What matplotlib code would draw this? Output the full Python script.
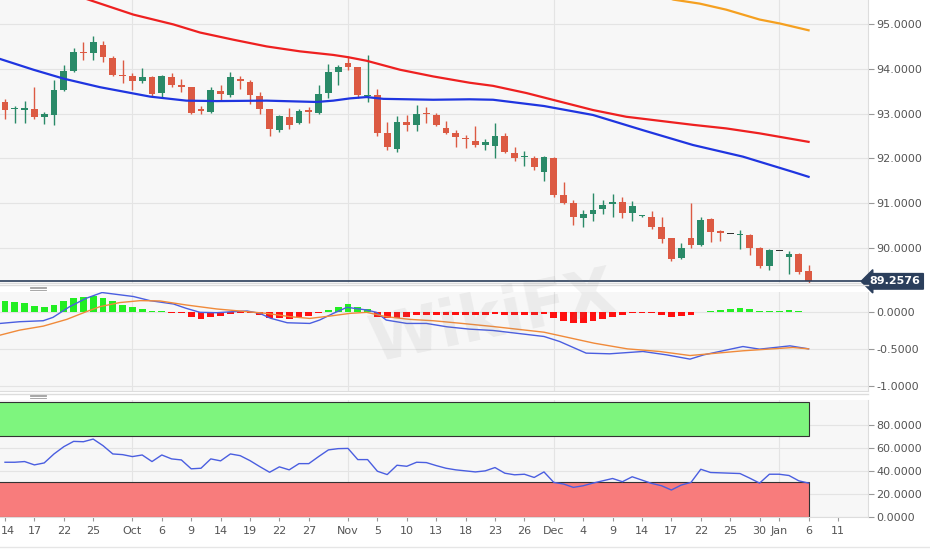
import matplotlib.pyplot as plt
import numpy as np
from matplotlib.patches import Rectangle

# daily candles, trading-day index 0 = Sep 14
opens = [93.27, 93.10, 93.09, 93.10, 92.93, 92.96, 93.53, 93.96, 94.38, 94.35,
         94.54, 94.25, 93.85, 93.85, 93.72, 93.81, 93.47, 93.81, 93.64, 93.59,
         93.11, 93.04, 93.51, 93.41, 93.78, 93.70, 93.40, 93.10, 92.63, 92.93,
         92.80, 93.07, 93.02, 93.46, 93.92, 94.13, 94.03, 93.40, 93.42, 92.57,
         92.21, 92.81, 92.75, 93.01, 92.97, 92.67, 92.57, 92.46, 92.38, 92.31,
         92.28, 92.51, 92.13, 92.04, 92.02, 91.70, 92.00, 91.18, 91.01, 90.68,
         90.77, 90.88, 90.98, 91.03, 90.79, 90.71, 90.70, 90.47, 90.22, 89.78,
         90.22, 90.06, 90.65, 90.37, 90.32, 90.29, 90.30, 90.00, 89.60, 89.93,
         89.80, 89.87, 89.48]
highs = [93.32, 93.16, 93.28, 93.60, 93.04, 93.75, 94.09, 94.46, 94.59, 94.74,
         94.63, 94.29, 94.19, 93.90, 94.01, 93.83, 93.87, 93.90, 93.78, 93.60,
         93.17, 93.59, 93.64, 93.92, 93.85, 93.75, 93.49, 93.10, 92.97, 93.12,
         93.10, 93.14, 93.64, 94.11, 94.09, 94.28, 94.05, 94.31, 93.54, 92.82,
         92.95, 92.97, 93.19, 93.14, 93.01, 92.84, 92.63, 92.52, 92.72, 92.43,
         92.80, 92.56, 92.26, 92.17, 92.05, 92.05, 92.04, 91.48, 91.07, 90.84,
         91.23, 91.07, 91.20, 91.13, 91.04, 90.73, 90.83, 90.69, 90.22, 90.11,
         91.01, 90.69, 90.68, 90.41, 90.32, 90.40, 90.32, 90.02, 89.99, 89.93,
         89.94, 89.89, 89.63]
lows = [92.87, 92.78, 92.78, 92.87, 92.77, 92.74, 93.51, 93.93, 94.19, 94.20,
        94.16, 93.83, 93.68, 93.53, 93.68, 93.38, 93.34, 93.59, 93.49, 93.00,
        93.00, 93.02, 93.31, 93.37, 93.54, 93.22, 92.99, 92.49, 92.60, 92.65,
        92.77, 92.78, 92.99, 93.34, 93.64, 93.98, 93.34, 93.27, 92.49, 92.19,
        92.15, 92.62, 92.62, 92.78, 92.72, 92.54, 92.26, 92.23, 92.25, 92.19,
        92.02, 92.13, 91.94, 91.84, 91.75, 91.50, 91.14, 90.99, 90.51, 90.46,
        90.60, 90.75, 90.69, 90.66, 90.60, 90.69, 90.43, 90.11, 89.72, 89.76,
        90.01, 90.04, 90.13, 90.16, 90.32, 89.99, 89.84, 89.56, 89.51, 89.93,
        89.41, 89.41, 89.21]
closes = [93.08, 93.12, 93.11, 92.92, 93.00, 93.53, 93.96, 94.37, 94.35, 94.59,
          94.26, 93.86, 93.84, 93.73, 93.81, 93.44, 93.83, 93.63, 93.59, 93.01,
          93.05, 93.53, 93.43, 93.81, 93.72, 93.42, 93.10, 92.66, 92.95, 92.74,
          93.06, 93.04, 93.44, 93.93, 94.03, 94.04, 93.42, 93.42, 92.57, 92.26,
          92.82, 92.75, 92.99, 92.99, 92.75, 92.57, 92.47, 92.43, 92.31, 92.36,
          92.51, 92.15, 92.00, 92.05, 91.81, 92.04, 91.18, 91.01, 90.69, 90.75,
          90.86, 90.96, 91.03, 90.78, 90.94, 90.72, 90.47, 90.21, 89.76, 90.00,
          90.06, 90.63, 90.36, 90.34, 90.32, 90.32, 90.01, 89.60, 89.96, 89.93,
          89.87, 89.46, 89.2576]
last_price = 89.2576

# moving averages (index, value)
ma_blue_x = [-0.5, 2.9, 6.0, 9.7, 14.8, 18.5, 21.6, 26.7, 31.8, 33.5, 35.2, 36.9, 38.6,
             43.7, 47.4, 49.8, 55.0, 60.0, 65.1, 70.2, 75.3, 80.4, 82.0]
ma_blue_y = [94.22, 93.98, 93.78, 93.59, 93.38, 93.29, 93.28, 93.29, 93.26, 93.29, 93.34,
             93.37, 93.33, 93.31, 93.32, 93.31, 93.17, 92.97, 92.63, 92.30, 92.04, 91.70, 91.59]
ma_red_x = [7.5, 8.5, 13.1, 17.2, 19.9, 23.3, 26.7, 30.1, 33.5, 35.0, 36.9, 40.3, 43.7,
            47.4, 49.8, 53.2, 56.6, 60.0, 63.4, 66.8, 70.2, 73.6, 77.0, 82.0]
ma_red_y = [95.62, 95.545, 95.21, 94.99, 94.81, 94.65, 94.50, 94.39, 94.31, 94.26, 94.18,
            93.98, 93.83, 93.69, 93.62, 93.46, 93.27, 93.08, 92.93, 92.84, 92.75, 92.67,
            92.56, 92.37]
ma_orange_x = [67.5, 68.2, 70.9, 73.6, 77.0, 79.1, 82.0]
ma_orange_y = [95.60, 95.545, 95.455, 95.32, 95.10, 95.01, 94.86]

# MACD
macd_hist = [0.146, 0.123, 0.11, 0.078, 0.065, 0.092, 0.136, 0.177, 0.199, 0.213,
             0.186, 0.145, 0.087, 0.06, 0.029, 0.005, 0.002, -0.02, -0.02, -0.07,
             -0.10, -0.07, -0.06, -0.035, -0.02, -0.025, -0.045, -0.085, -0.09, -0.095,
             -0.07, -0.055, -0.025, 0.02, 0.055, 0.095, 0.065, 0.04, -0.07, -0.08,
             -0.08, -0.07, -0.05, -0.043, -0.05, -0.05, -0.05, -0.05, -0.043, -0.05,
             -0.035, -0.043, -0.05, -0.05, -0.05, -0.035, -0.087, -0.12, -0.15, -0.15,
             -0.13, -0.10, -0.07, -0.05, -0.025, -0.025, -0.025, -0.04, -0.07, -0.06,
             -0.05, 0.0, 0.01, 0.025, 0.035, 0.045, 0.03, 0.01, 0.01, 0.012,
             0.015, 0.005, -0.003]
macd_x = [-0.5, 1.5, 3.9, 4.9, 6.6, 8.3, 9.9, 13.1, 14.8, 17.2, 18.5, 19.9, 21.6, 23.3,
          24.7, 26.0, 27.1, 28.8, 31.1, 32.1, 33.5, 34.9, 36.9, 37.9, 38.9, 41.0, 43.0,
          45.1, 47.4, 49.8, 55.0, 56.6, 59.3, 61.7, 65.1, 67.5, 69.9, 71.3, 75.3, 77.0,
          80.1, 82.0]
macd_y = [-0.159, -0.136, -0.123, -0.078, 0.065, 0.177, 0.253, 0.20, 0.145, 0.10, 0.042,
          -0.011, -0.016, -0.002, 0.007, -0.025, -0.09, -0.15, -0.159, -0.114, -0.025,
          0.056, 0.02, -0.011, -0.114, -0.159, -0.159, -0.204, -0.235, -0.253, -0.333,
          -0.40, -0.555, -0.564, -0.533, -0.578, -0.635, -0.578, -0.467, -0.502, -0.458,
          -0.498]
signal_x = [-0.5, 1.5, 3.9, 6.3, 8.3, 9.7, 11.7, 13.8, 15.8, 18.5, 21.6, 24.7, 26.7, 29.1,
            31.1, 33.2, 35.2, 36.9, 38.9, 41.3, 43.7, 46.4, 49.8, 55.0, 60.1, 63.5, 66.8,
            69.9, 71.9, 75.3, 80.4, 82.0]
signal_y = [-0.315, -0.248, -0.195, -0.105, -0.002, 0.065, 0.119, 0.145, 0.141, 0.087,
            0.034, -0.002, -0.025, -0.069, -0.092, -0.06, -0.025, -0.011, -0.069, -0.105,
            -0.123, -0.156, -0.20, -0.276, -0.422, -0.498, -0.533, -0.587, -0.564, -0.524,
            -0.48, -0.498]

# RSI
rsi = [47.5, 47.5, 48.1, 45.2, 46.9, 54.7, 61.0, 65.6, 65.3, 67.6,
       61.9, 54.7, 54.1, 52.4, 53.8, 48.1, 53.8, 50.4, 49.5, 41.8,
       42.3, 50.4, 48.7, 54.7, 53.2, 48.9, 43.7, 38.8, 43.5, 40.9,
       46.3, 46.3, 52.4, 58.2, 59.3, 59.5, 49.8, 49.8, 39.7, 36.8,
       44.9, 44.0, 47.5, 47.2, 44.6, 42.3, 40.9, 40.0, 39.1, 40.0,
       42.9, 38.0, 36.6, 37.1, 34.3, 39.1, 30.0, 28.6, 25.7, 27.1,
       29.4, 31.4, 33.4, 30.6, 34.9, 32.0, 29.1, 27.1, 23.4, 27.7,
       30.0, 41.4, 38.6, 38.3, 38.0, 37.7, 33.7, 29.4, 37.1, 37.1,
       36.0, 31.4, 29.4]

tick_pos = [0, 3, 6, 9, 13, 16, 19, 22, 25, 28, 31, 35, 38, 41, 44, 47, 50, 53, 56, 59,
            62, 65, 68, 71, 74, 77, 79, 82, 85]
tick_lab = ['14', '17', '22', '25', 'Oct', '6', '9', '14', '19', '22', '27', 'Nov', '5',
            '10', '13', '18', '23', '26', 'Dec', '4', '9', '14', '17', '22', '25', '30',
            'Jan', '6', '11']
month_pos = [13, 35, 56, 79]

GREEN = '#2a8a68'
RED = '#dc5a43'
BG = '#f7f7f7'
GRID = '#e4e4e4'
XL = (-0.51, 88.06)

fig = plt.figure(figsize=(9.3, 5.49), dpi=100)
ax1 = fig.add_axes([0, 0.4845, 0.9333, 0.5155])
ax2 = fig.add_axes([0, 0.2878, 0.9333, 0.1803])
ax3 = fig.add_axes([0, 0.0583, 0.9333, 0.2131])

for ax in (ax1, ax2, ax3):
    ax.set_facecolor(BG)
    ax.set_xlim(*XL)
    ax.yaxis.tick_right()
    ax.tick_params(axis='y', length=4, color='#999999', labelcolor='#555555',
                   labelsize=8, pad=2)
    for s in ax.spines.values():
        s.set_color('#dddddd')
        s.set_linewidth(0.8)
    ax.spines['left'].set_visible(False)
    ax.spines['top'].set_visible(False)
    for m in month_pos:
        ax.axvline(m, color=GRID, lw=0.8, zorder=0)
    ax.set_axisbelow(True)

# --- price panel
x = np.arange(len(closes))
o = np.array(opens); c = np.array(closes)
colors = []
for oo, cc in zip(o, c):
    if oo == cc:
        colors.append('#333333')
    elif cc > oo:
        colors.append(GREEN)
    else:
        colors.append(RED)
ax1.vlines(x, lows, highs, colors=colors, lw=1, zorder=2)
body_h = np.maximum(np.abs(c - o), 0.025)
ax1.bar(x, body_h, bottom=np.minimum(o, c), width=0.7, color=colors, zorder=3)
ax1.plot(ma_blue_x, ma_blue_y, color='#1f35e0', lw=1.6, zorder=4)
ax1.plot(ma_red_x, ma_red_y, color='#ee2020', lw=1.6, zorder=4)
ax1.plot(ma_orange_x, ma_orange_y, color='#f5a020', lw=1.6, zorder=4)
ax1.axhline(last_price, color='#2b3f5c', lw=1.2, zorder=5)
ax1.set_ylim(89.22, 95.536)
ax1.set_yticks([90, 91, 92, 93, 94, 95])
ax1.set_yticklabels(['%.4f' % v for v in [90, 91, 92, 93, 94, 95]])
ax1.grid(axis='y', color=GRID, lw=0.8)
ax1.set_xticks([])
ax1.text(1.002, (last_price - 89.22) / (95.536 - 89.22), '%.4f' % last_price,
         transform=ax1.transAxes, ha='left', va='center', color='white',
         fontsize=8, fontweight='bold', zorder=10, clip_on=False,
         bbox=dict(boxstyle='larrow,pad=0.25', fc='#2b3f5c', ec='#2b3f5c'))

# --- MACD panel
h = np.array(macd_hist)
ax2.bar(x, h, width=0.7, color=np.where(h >= 0, '#22ee22', '#ff1010'), zorder=2)
ax2.plot(macd_x, macd_y, color='#4a5ee0', lw=1, zorder=3)
ax2.plot(signal_x, signal_y, color='#f08a3a', lw=1, zorder=3)
ax2.set_ylim(-1.06, 0.26)
ax2.set_yticks([-1.0, -0.5, 0.0])
ax2.set_yticklabels(['-1.0000', '-0.5000', '0.0000'])
ax2.grid(axis='y', color=GRID, lw=0.8)
ax2.set_xticks([])

# --- RSI panel
ax3.add_patch(Rectangle((XL[0] - 1, 70), 82 - XL[0] + 1, 30, fc='#7ef57e', ec='#333333',
                        lw=0.8, zorder=1))
ax3.add_patch(Rectangle((XL[0] - 1, 0), 82 - XL[0] + 1, 30, fc='#f87c7c', ec='#333333',
                        lw=0.8, zorder=1))
ax3.plot(x, rsi, color='#4a5ee0', lw=1, zorder=3)
ax3.set_ylim(0, 101.5)
ax3.set_yticks([0, 20, 40, 60, 80])
ax3.set_yticklabels(['%.4f' % v for v in [0, 20, 40, 60, 80]])
ax3.grid(axis='y', color=GRID, lw=0.8)
ax3.set_xticks(tick_pos)
# first label sits on the left edge, drawn separately so it is not cut
ax3.set_xticklabels([''] + tick_lab[1:])
ax3.tick_params(axis='x', length=3, color='#999999', labelcolor='#555555', labelsize=8)
fig.text(0.001, 1 - 531 / 549, tick_lab[0], ha='left', va='center', fontsize=8,
         color='#555555')

# panel separators, handles and watermark
for yy in (1 - 285 / 549, 1 - 394 / 549):
    fig.add_artist(plt.Line2D([0, 0.9333], [yy, yy], color='#dddddd', lw=1))
fig.add_artist(plt.Line2D([0, 1], [1 - 547 / 549] * 2, color='#e6e6e6', lw=1))
for yy in (288, 396):
    for d in (-1.5, 0, 1.5):
        fig.add_artist(plt.Line2D([30 / 930, 46 / 930], [1 - (yy + d) / 549] * 2,
                                  color='#999999', lw=0.6))
fig.text(0.53, 0.42, 'WikiFX', fontsize=46, fontweight='bold', color='#888888',
         alpha=0.11, ha='center', va='center', rotation=12)

fig.savefig('out.png', dpi=100, facecolor='white')
